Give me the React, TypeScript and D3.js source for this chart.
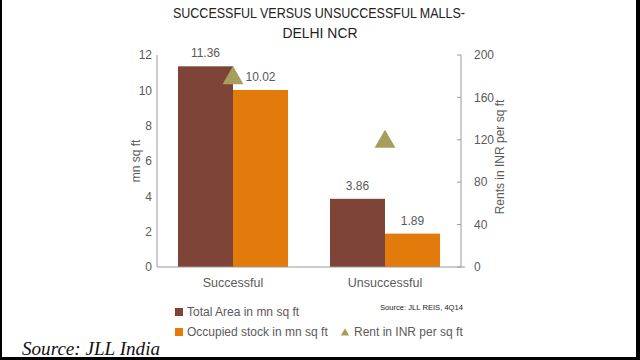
import React from "react";
import * as d3 from "d3";

const categories = ["Successful", "Unsuccessful"];
const seriesNames = ["Total Area in mn sq ft", "Occupied stock in mn sq ft"];
const totalArea = [11.36, 3.86];
const occupiedStock = [10.02, 1.89];
const rentINR = [180, 120];
const leftTicks = [0, 2, 4, 6, 8, 10, 12];
const rightTicks = [0, 40, 80, 120, 160, 200];
const rentLabel = "Rent in INR per sq ft";

const W = 640;
const H = 360;
const BROWN = "#7E4437";
const ORANGE = "#E27B0B";
const OLIVE = "#A89E5B";
const GREY_TXT = "#5a5a5a";
const AXIS = "#9a9a9a";
const FONT = "'Liberation Sans', Arial, sans-serif";

export default function App() {
  const x = d3.scaleBand<string>().domain(categories).range([157, 461]).paddingInner(0.276).paddingOuter(0.138);
  const sub = d3.scaleBand<string>().domain(seriesNames).range([0, x.bandwidth()]).padding(0);
  const yL = d3.scaleLinear().domain([0, 12]).range([267, 55]);
  const yR = d3.scaleLinear().domain([0, 200]).range([267, 55]);
  const series = [
    { name: seriesNames[0], values: totalArea, color: BROWN },
    { name: seriesNames[1], values: occupiedStock, color: ORANGE },
  ];
  const tri = d3.symbol().type(d3.symbolTriangle).size(190)();
  const triSmall = d3.symbol().type(d3.symbolTriangle).size(30)();

  return (
    <div style={{ position: "absolute", left: 0, top: 0 }}>
      <svg width={W} height={H} style={{ display: "block", background: "#fff" }} fontFamily={FONT}>
        <rect x={0} y={0} width={W} height={H} fill="#fff" />
        {/* title */}
        <text x={319} y={18} textAnchor="middle" fontSize={15} fill="#222" textLength={292} lengthAdjust="spacingAndGlyphs">
          SUCCESSFUL VERSUS UNSUCCESSFUL MALLS-
        </text>
        <text x={320} y={38} textAnchor="middle" fontSize={15} fill="#222" textLength={75} lengthAdjust="spacingAndGlyphs">
          DELHI NCR
        </text>

        {/* bars */}
        {series.map((s) =>
          categories.map((c, i) => (
            <rect
              key={s.name + c}
              x={(x(c) ?? 0) + (sub(s.name) ?? 0)}
              y={yL(s.values[i])}
              width={sub.bandwidth()}
              height={yL(0) - yL(s.values[i])}
              fill={s.color}
            />
          ))
        )}
        {/* value labels */}
        {series.map((s) =>
          categories.map((c, i) => (
            <text
              key={"l" + s.name + c}
              x={(x(c) ?? 0) + (sub(s.name) ?? 0) + sub.bandwidth() / 2}
              y={yL(s.values[i]) - 9}
              textAnchor="middle"
              fontSize={12}
              fill={GREY_TXT}
            >
              {s.values[i].toFixed(2)}
            </text>
          ))
        )}

        {/* axes */}
        <line x1={157} x2={157} y1={yL(12)} y2={yL(0)} stroke={AXIS} strokeWidth={1} />
        <line x1={461} x2={461} y1={yR(200)} y2={yR(0)} stroke={AXIS} strokeWidth={1} />
        <line x1={157} x2={465} y1={yL(0)} y2={yL(0)} stroke={AXIS} strokeWidth={1} />
        {leftTicks.map((t) => (
          <text key={"lt" + t} x={152} y={yL(t)} dy="0.35em" textAnchor="end" fontSize={12} fill={GREY_TXT}>
            {t}
          </text>
        ))}
        {rightTicks.map((t) => (
          <g key={"rt" + t}>
            <line x1={457} x2={461} y1={yR(t)} y2={yR(t)} stroke={AXIS} />
            <text x={474} y={yR(t)} dy="0.35em" textAnchor="start" fontSize={12} fill={GREY_TXT}>
              {t}
            </text>
          </g>
        ))}
        <text transform={`translate(140,161) rotate(-90)`} textAnchor="middle" fontSize={12} fill={GREY_TXT}>
          mn sq ft
        </text>
        <text transform={`translate(504,157) rotate(-90)`} textAnchor="middle" fontSize={12} fill={GREY_TXT}>
          Rents in INR per sq ft
        </text>

        {/* rent markers */}
        {categories.map((c, i) => (
          <path
            key={"tri" + c}
            d={tri ?? ""}
            transform={`translate(${(x(c) ?? 0) + x.bandwidth() / 2},${yR(rentINR[i]) + 2})`}
            fill={OLIVE}
          />
        ))}

        {/* category labels */}
        {categories.map((c) => (
          <text key={"c" + c} x={(x(c) ?? 0) + x.bandwidth() / 2} y={287} textAnchor="middle" fontSize={12.5} fill={GREY_TXT}>
            {c}
          </text>
        ))}

        {/* legend */}
        <rect x={175} y={308} width={8} height={8} fill={BROWN} />
        <text x={187} y={316} fontSize={12} fill={GREY_TXT}>{seriesNames[0]}</text>
        <rect x={175} y={328} width={8} height={8} fill={ORANGE} />
        <text x={187} y={336} fontSize={12} fill={GREY_TXT}>{seriesNames[1]}</text>
        <path d={triSmall ?? ""} transform="translate(345,333)" fill={OLIVE} />
        <text x={354} y={336} fontSize={12} fill={GREY_TXT}>{rentLabel}</text>
        <text x={380} y={310} fontSize={8} fill="#222" textLength={83} lengthAdjust="spacingAndGlyphs">
          Source: JLL REIS, 4Q14
        </text>

        {/* footer source */}
        <text
          x={22}
          y={355}
          fontSize={18}
          fontStyle="italic"
          fontFamily="'Liberation Serif', 'DejaVu Serif', serif"
          fill="#111"
          textLength={138}
          lengthAdjust="spacingAndGlyphs"
        >
          Source: JLL India
        </text>

        {/* frame */}
        <rect x={0} y={0} width={2} height={H} fill="#000" />
        <rect x={636} y={0} width={4} height={H} fill="#000" />
        <rect x={0} y={357} width={W} height={3} fill="#000" />
      </svg>
    </div>
  );
}
